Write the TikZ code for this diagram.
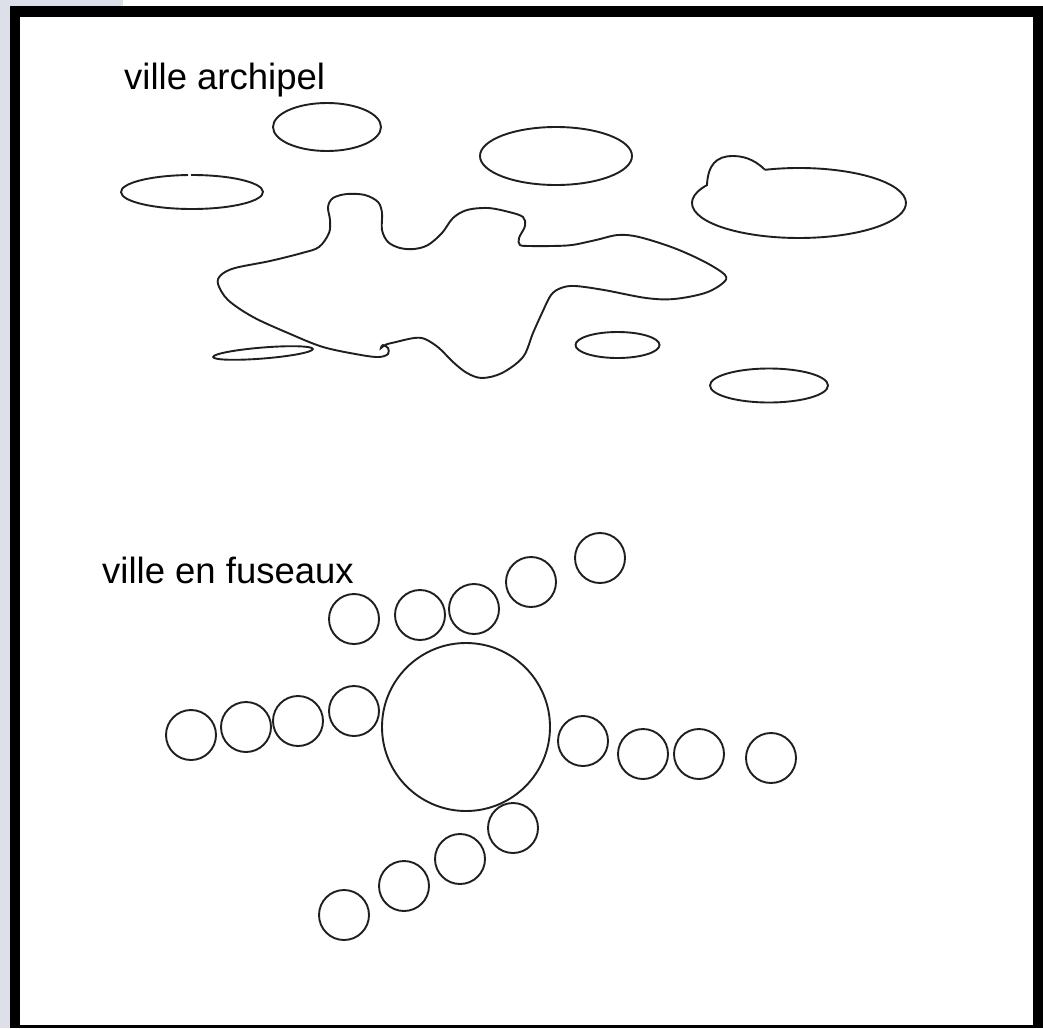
\documentclass[tikz,border=0pt]{standalone}
\usepackage{fontspec}
\setmainfont{Liberation Sans}
\definecolor{pagegrey}{RGB}{221,224,232}
\begin{document}
\begin{tikzpicture}[x=1pt,y=-1pt,
  outl/.style={draw=black!88, line width=1.9pt},
  lbl/.style={anchor=base west, inner sep=0pt, font=\fontsize{36.5}{40}\selectfont}]
\useasboundingbox (0,0) rectangle (1043,1028);
\fill[white] (0,0) rectangle (1043,1028);
\fill[pagegrey] (0,0) rectangle (10,1028);
\fill[pagegrey] (0,0) rectangle (123,6);
\fill[black] (10,6) rectangle (1043,1028);
\fill[white] (20,17) rectangle (1033,1024.5);

% labels
\node[lbl] (t1) at (124,89.5) {ville archipel};
\node[lbl] (t2) at (102,583.5) {ville en fuseaux};

% ville archipel
\draw[outl] (327,127) ellipse[x radius=54, y radius=24];
\draw[outl] (556,156) ellipse[x radius=76, y radius=29];
\draw[outl] (191,175) arc[start angle=269.2, end angle=626.8, x radius=71, y radius=17];
\draw[outl] (765,169.8) arc[start angle=251.5, end angle=570.7, x radius=107, y radius=35]
  .. controls (708,165) and (716,156) .. (733,156)
  .. controls (748,156) and (758,163) .. (765,169.8);
\draw[outl] (263,353) ellipse[x radius=50, y radius=5.5, rotate=4.6];
\draw[outl] (617.5,345) ellipse[x radius=42, y radius=13];
\draw[outl] (769,385.5) ellipse[x radius=59, y radius=17];

\draw[outl] plot[smooth cycle, tension=0.55] coordinates {
 (396,342) (414,338) (425,339) (439,348) (453,362) (467,373) (482,378)
 (502,373) (523,357) (533,333) (542,313) (551,295) (561,288) (575,286)
 (604,290) (646,298) (674,299) (705,293) (723,283) (725,275) (705,262)
 (674,248) (639,237) (618,235) (596,240) (572,245) (551,246) (530,246)
 (520,245) (519,238) (525,226) (523,217) (509,212) (488,208) (467,210)
 (453,218) (442,233) (428,245) (414,249) (400,248) (388,242) (382,230)
 (382,213) (378,202) (365,195) (347,194) (333,198) (328,207) (330,220)
 (329,233) (319,247) (302,253) (270,261) (235,268) (221,275) (218,284)
 (228,300) (253,317) (288,333) (323,347) (361,355) (379,357) (388,354)
 (388,348) (383,345) (381,348) (386,344.5)};

% ville en fuseaux
\draw[outl] (466,727) circle[radius=84];
\foreach \cx/\cy in {600/558, 531/582, 474/609, 420/615, 354/619,
  354/711, 298/721, 246/727, 191/735,
  583/741, 643/754, 699/754, 771/758,
  513/828, 460/859, 404/886, 344/915}
  \draw[outl] (\cx,\cy) circle[radius=25];
\end{tikzpicture}
\end{document}
